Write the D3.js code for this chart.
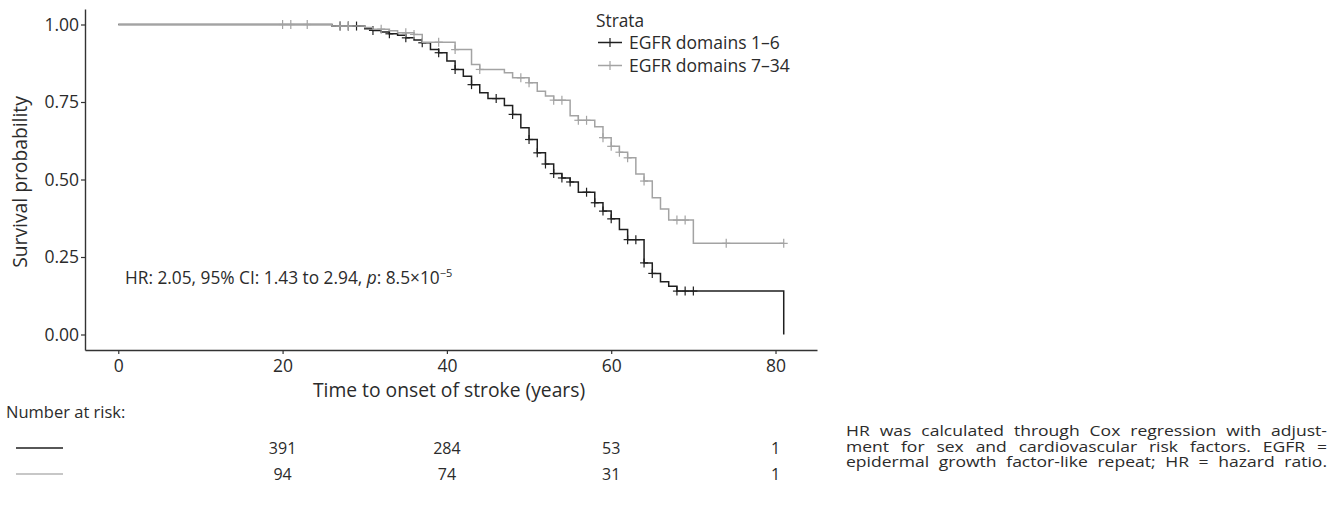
<!DOCTYPE html>
<html>
<head>
<meta charset="utf-8">
<script src="https://cdn.jsdelivr.net/npm/d3@7"></script>
<style>
  body { margin: 0; background: #fff; }
  svg { display: block; font-family: "Open Sans", "Noto Sans", sans-serif; }
</style>
</head>
<body>
<svg id="chart" width="1338" height="512"></svg>
<script>
// ---------------- data ----------------
const strataNames = ["EGFR domains 1\u20136", "EGFR domains 7\u201334"];
const strataColors = ["#1f1f1f", "#a3a3a3"];

// EGFR domains 1–6 (step function: time, survival after step)
const timesA = [0, 26, 30, 31, 32, 33, 34, 35, 36, 37, 38, 39, 40, 41, 42, 43, 44, 45, 47, 48, 49, 50, 51, 52, 53, 54, 55, 56, 58, 59, 60, 61, 62, 64, 65, 66, 67, 68, 81];
const survA  = [1, 0.995, 0.986, 0.981, 0.976, 0.970, 0.965, 0.957, 0.950, 0.941, 0.919, 0.909, 0.882, 0.855, 0.833, 0.806, 0.780, 0.761, 0.739, 0.710, 0.667, 0.629, 0.586, 0.550, 0.519, 0.505, 0.492, 0.459, 0.425, 0.398, 0.373, 0.339, 0.306, 0.231, 0.197, 0.170, 0.156, 0.140, 0];
const censorA = [27, 28, 29, 31, 33, 35, 37, 39, 41, 43, 46, 48, 50, 51, 52, 53, 54, 55, 57, 58, 59, 60, 62, 63, 64, 65, 68, 69, 70];

// EGFR domains 7–34
const timesB = [0, 26, 30, 31, 33, 34, 36, 37, 41, 43, 44, 47, 48, 50, 51, 52, 53, 55, 56, 58, 59, 60, 61, 62, 63, 64, 65, 66, 67, 70, 81];
const survB  = [1, 0.995, 0.990, 0.985, 0.980, 0.973, 0.968, 0.943, 0.919, 0.871, 0.855, 0.844, 0.828, 0.812, 0.785, 0.769, 0.756, 0.706, 0.691, 0.670, 0.635, 0.607, 0.588, 0.570, 0.518, 0.495, 0.441, 0.405, 0.369, 0.294, 0.294];
const censorB = [20, 21, 23, 27, 28, 32, 35, 36, 39, 41, 44, 49, 50, 53, 54, 56, 57, 59, 60, 61, 62, 64, 68, 69, 74, 81];

const xTicks = [0, 20, 40, 60, 80];
const yTicks = [0, 0.25, 0.5, 0.75, 1];
const riskTimes = [20, 40, 60, 80];
const riskA = [391, 284, 53, 1];
const riskB = [94, 74, 31, 1];

const footnoteLines = [
  "HR was calculated through Cox regression with adjust-",
  "ment for sex and cardiovascular risk factors. EGFR =",
  "epidermal growth factor-like repeat; HR = hazard ratio."
];

// ---------------- drawing ----------------
const svg = d3.select("#chart");
svg.append("rect").attr("width", 1338).attr("height", 512).attr("fill", "#fff");

const x = d3.scaleLinear().domain([-4.05, 85.05]).range([85, 817]);
const y = d3.scaleLinear().domain([-0.05, 1.05]).range([350, 9]);

const axisColor = "#333";
const textColor = "#2b2b2b";

// axes
const gx = svg.append("g").attr("transform", `translate(0,${y(-0.05)})`)
  .call(d3.axisBottom(x).tickValues(xTicks).tickFormat(d3.format("d")).tickSize(4).tickSizeOuter(0).tickPadding(6));
const gy = svg.append("g").attr("transform", `translate(${x(-4.05)},0)`)
  .call(d3.axisLeft(y).tickValues(yTicks).tickFormat(d3.format(".2f")).tickSize(4).tickSizeOuter(0).tickPadding(2));
[gx, gy].forEach(g => {
  g.select(".domain").attr("stroke", axisColor).attr("stroke-width", 1.4);
  g.selectAll(".tick line").attr("stroke", axisColor).attr("stroke-width", 1.2);
  g.selectAll(".tick text").attr("fill", textColor).style("font-size", "17.5px").style("font-family", "'Open Sans'");
});

// axis titles
svg.append("text").attr("x", 449).attr("y", 397).attr("text-anchor", "middle")
  .attr("fill", textColor).style("font-size", "19.3px").text("Time to onset of stroke (years)");
svg.append("text").attr("transform", "translate(27,182) rotate(-90)").attr("text-anchor", "middle")
  .attr("fill", textColor).style("font-size", "19.3px").text("Survival probability");

// curves
function stepFn(times, surv) {
  return t => {
    let s = surv[0];
    for (let i = 0; i < times.length; i++) { if (times[i] <= t) s = surv[i]; }
    return s;
  };
}
const line = d3.line().x(d => x(d[0])).y(d => y(d[1])).curve(d3.curveStepAfter);
const strata = [
  { times: timesA, surv: survA, cens: censorA, color: strataColors[0] },
  { times: timesB, surv: survB, cens: censorB, color: strataColors[1] }
];
strata.forEach(s => {
  const pts = s.times.map((t, i) => [t, s.surv[i]]);
  svg.append("path").attr("d", line(pts)).attr("fill", "none")
    .attr("stroke", s.color).attr("stroke-width", 1.5);
  const f = stepFn(s.times, s.surv);
  const g = svg.append("g").attr("stroke", s.color).attr("stroke-width", 1.2);
  s.cens.forEach(t => {
    const cx = x(t), cy = y(f(t));
    g.append("line").attr("x1", cx).attr("x2", cx).attr("y1", cy - 4.5).attr("y2", cy + 4.5);
    g.append("line").attr("x1", cx - 4).attr("x2", cx + 4).attr("y1", cy).attr("y2", cy);
  });
});

// HR annotation
const hr = svg.append("text").attr("x", 125).attr("y", 284).attr("fill", textColor).style("font-size", "17.3px");
hr.append("tspan").text("HR: 2.05, 95% CI: 1.43 to 2.94, ");
hr.append("tspan").style("font-style", "italic").text("p");
hr.append("tspan").text(": 8.5\u00d710");
hr.append("tspan").attr("dy", -7).style("font-size", "11px").text("\u22125");

// legend
const lg = svg.append("g");
lg.append("text").attr("x", 596).attr("y", 27).attr("fill", textColor).style("font-size", "17.3px").text("Strata");
strataNames.forEach((n, i) => {
  const ly = 42.5 + i * 23;
  lg.append("line").attr("x1", 598).attr("x2", 622).attr("y1", ly).attr("y2", ly)
    .attr("stroke", strataColors[i]).attr("stroke-width", 1.5);
  lg.append("line").attr("x1", 610).attr("x2", 610).attr("y1", ly - 4.5).attr("y2", ly + 4.5)
    .attr("stroke", strataColors[i]).attr("stroke-width", 1.2);
  lg.append("text").attr("x", 629).attr("y", ly + 6).attr("fill", textColor).style("font-size", "17.5px").text(n);
});

// risk table
svg.append("text").attr("x", 6).attr("y", 418).attr("fill", textColor).style("font-size", "16.5px").text("Number at risk:");
[riskA, riskB].forEach((row, i) => {
  const ry = 448 + i * 26;
  svg.append("line").attr("x1", 16).attr("x2", 63).attr("y1", ry).attr("y2", ry)
    .attr("stroke", i === 0 ? "#1f1f1f" : "#b5b5b5").attr("stroke-width", 1.5);
  svg.selectAll(null).data(row).enter().append("text")
    .attr("x", (d, j) => x(riskTimes[j])).attr("y", ry + 6).attr("text-anchor", "middle")
    .attr("fill", textColor).style("font-size", "16px").text(d => d);
});

// footnote (horizontally widened, justified via word spacing)
const fnX = 846, fnW = 481, fnStretch = 1.17;
footnoteLines.forEach((t, i) => {
  const tx = svg.append("text")
    .attr("transform", `translate(${fnX},${436 + i * 15.5}) scale(${fnStretch},1)`)
    .attr("fill", textColor).style("font-size", "15px").text(t);
  const natural = tx.node().getComputedTextLength();
  const target = fnW / fnStretch;
  const spaces = (t.match(/ /g) || []).length;
  if (spaces > 0 && natural < target) tx.style("word-spacing", ((target - natural) / spaces) + "px");
});
</script>
</body>
</html>
